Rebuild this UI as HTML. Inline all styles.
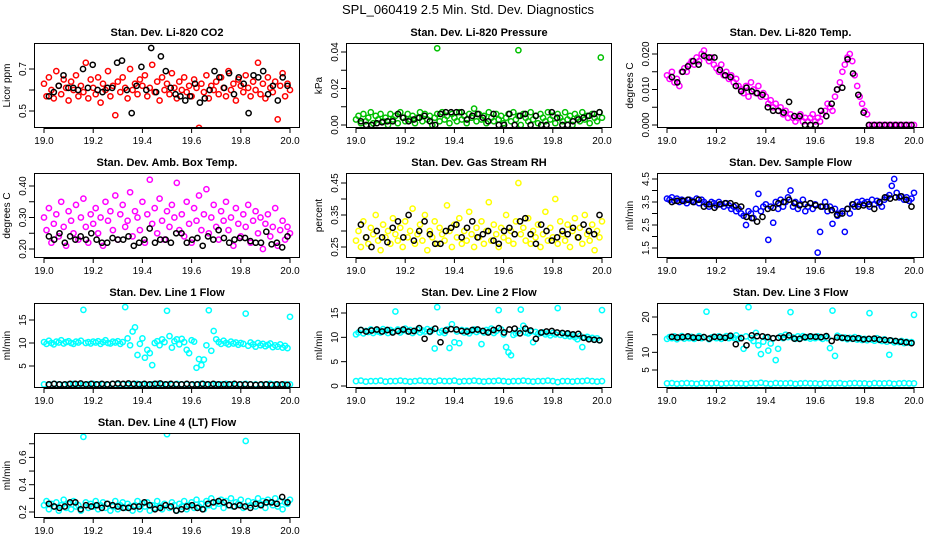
<!DOCTYPE html>
<html><head><meta charset="utf-8"><title>SPL_060419 Diagnostics</title>
<style>
html,body{margin:0;padding:0;background:#fff;}
svg{display:block;font-family:"Liberation Sans",Arial,sans-serif;}
</style></head>
<body>
<svg id="chart" width="936" height="540" viewBox="0 0 936 540" xmlns="http://www.w3.org/2000/svg">
<rect x="0" y="0" width="936" height="540" fill="#fff"/>
<text x="468" y="14" text-anchor="middle" font-size="13">SPL_060419  2.5 Min. Std. Dev. Diagnostics</text>
</svg>
<script>
const xTicks=[19.0,19.2,19.4,19.6,19.8,20.0];
const xTickLabels=["19.0","19.2","19.4","19.6","19.8","20.0"];
const xStart=19.0, xEnd=20.0, refStart=19.02, refEnd=19.99;

const co2Main=[0.63,0.57,0.66,0.60,0.56,0.69,0.62,0.58,0.65,0.61,0.55,0.64,0.60,0.67,0.57,0.62,0.59,0.73,0.56,0.65,0.61,0.58,0.66,0.54,0.63,0.60,0.69,0.57,0.62,0.48,0.64,0.59,0.66,0.61,0.56,0.70,0.60,0.63,0.58,0.65,0.62,0.67,0.57,0.61,0.72,0.59,0.64,0.55,0.66,0.60,0.63,0.58,0.68,0.61,0.56,0.64,0.60,0.66,0.59,0.62,0.57,0.65,0.61,0.42,0.63,0.59,0.67,0.56,0.62,0.60,0.64,0.58,0.66,0.61,0.57,0.69,0.60,0.63,0.55,0.65,0.62,0.59,0.67,0.61,0.57,0.64,0.60,0.73,0.58,0.63,0.56,0.66,0.61,0.59,0.64,0.46,0.62,0.68,0.57,0.63,0.60];
const co2Ref=[0.57,0.59,0.62,0.67,0.61,0.61,0.60,0.70,0.61,0.72,0.60,0.59,0.61,0.61,0.73,0.74,0.60,0.49,0.62,0.71,0.60,0.80,0.59,0.76,0.69,0.61,0.58,0.57,0.55,0.57,0.63,0.54,0.56,0.60,0.69,0.66,0.61,0.68,0.58,0.66,0.63,0.49,0.67,0.66,0.69,0.58,0.62,0.55,0.66,0.62];
const presMain=[0.003,0.005,0.001,0.006,0.002,0.004,0.007,0.001,0.005,0.003,0.006,0.002,0.004,0.000,0.006,0.003,0.005,0.001,0.007,0.004,0.002,0.006,0.003,0.005,0.001,0.004,0.007,0.002,0.006,0.003,0.005,0.000,0.004,0.006,0.002,0.007,0.003,0.005,0.001,0.006,0.004,0.002,0.007,0.003,0.005,0.001,0.006,0.004,0.009,0.002,0.006,0.003,0.005,0.001,0.007,0.004,0.002,0.006,0.003,0.005,0.001,0.004,0.006,0.002,0.007,0.003,0.005,0.000,0.006,0.004,0.002,0.007,0.003,0.005,0.001,0.006,0.004,0.002,0.007,0.003,0.005,0.001,0.006,0.004,0.002,0.007,0.003,0.005,0.000,0.006,0.004,0.002,0.007,0.003,0.005,0.001,0.006,0.004,0.002,0.007,0.004];
const presOutX=[19.33,19.66,19.995];
const presOutY=[0.042,0.041,0.037];
const presRef=[0.002,0.000,0.000,0.001,0.0015,0.002,0.002,0.006,0.004,0.002,0.003,0.004,0.005,0.002,0.000,0.006,0.007,0.007,0.007,0.007,0.003,0.005,0.006,0.004,0.002,0.006,0.000,0.000,0.006,0.000,0.005,0.006,0.000,0.005,0.000,0.000,0.007,0.004,0.000,0.000,0.002,0.003,0.004,0.005,0.006,0.007];
const tempMain=[0.014,0.013,0.015,0.012,0.013,0.011,0.015,0.016,0.015,0.017,0.018,0.017,0.019,0.018,0.020,0.021,0.019,0.018,0.019,0.017,0.016,0.015,0.017,0.014,0.015,0.013,0.014,0.012,0.013,0.011,0.010,0.009,0.011,0.008,0.012,0.010,0.009,0.011,0.008,0.009,0.008,0.006,0.007,0.005,0.006,0.004,0.005,0.003,0.004,0.002,0.003,0.002,0.001,0.002,0.003,0.001,0.002,0.001,0.002,0.003,0.001,0.002,0.001,0.003,0.004,0.006,0.005,0.004,0.008,0.010,0.012,0.015,0.017,0.019,0.020,0.018,0.014,0.011,0.008,0.006,0.004,0.003,0.000,0.000,0.000,0.000,0.000,0.000,0.000,0.000,0.000,0.000,0.000,0.000,0.000,0.000,0.000,0.000,0.000,0.000,0.000];
const tempRef=[0.0135,0.012,0.015,0.0165,0.018,0.017,0.0195,0.019,0.019,0.0155,0.014,0.0135,0.011,0.0095,0.0105,0.0095,0.009,0.0085,0.005,0.004,0.004,0.0035,0.0065,0.0025,0.0025,0.000,0.000,0.000,0.004,0.0025,0.006,0.010,0.0105,0.0185,0.0145,0.0085,0.0035,0.000,0,0,0,0,0,0,0,0];
const ambMain=[0.30,0.26,0.33,0.22,0.28,0.31,0.24,0.35,0.27,0.21,0.32,0.29,0.25,0.34,0.23,0.30,0.36,0.27,0.22,0.31,0.28,0.33,0.25,0.30,0.21,0.35,0.29,0.32,0.26,0.37,0.23,0.31,0.34,0.27,0.29,0.38,0.24,0.32,0.30,0.26,0.35,0.22,0.31,0.42,0.28,0.33,0.25,0.36,0.29,0.23,0.32,0.27,0.34,0.30,0.41,0.26,0.31,0.24,0.35,0.28,0.22,0.33,0.29,0.37,0.26,0.31,0.39,0.25,0.30,0.34,0.27,0.23,0.32,0.29,0.35,0.26,0.30,0.21,0.33,0.28,0.24,0.31,0.27,0.34,0.22,0.29,0.32,0.25,0.30,0.20,0.28,0.31,0.24,0.27,0.33,0.21,0.26,0.29,0.23,0.27,0.25];
const ambRef=[0.24,0.23,0.25,0.22,0.24,0.23,0.24,0.23,0.25,0.23,0.22,0.22,0.235,0.23,0.23,0.24,0.21,0.22,0.23,0.265,0.22,0.23,0.23,0.22,0.25,0.25,0.22,0.23,0.235,0.21,0.24,0.23,0.26,0.235,0.22,0.23,0.235,0.235,0.225,0.22,0.22,0.255,0.215,0.22,0.205,0.24];
const rhMain=[0.27,0.30,0.25,0.33,0.28,0.26,0.31,0.29,0.35,0.27,0.24,0.32,0.28,0.30,0.26,0.34,0.29,0.27,0.31,0.25,0.33,0.28,0.30,0.37,0.26,0.29,0.32,0.27,0.35,0.24,0.30,0.28,0.33,0.26,0.31,0.29,0.27,0.38,0.30,0.25,0.32,0.28,0.34,0.26,0.30,0.27,0.36,0.29,0.25,0.31,0.28,0.33,0.26,0.30,0.39,0.27,0.32,0.29,0.25,0.31,0.28,0.35,0.27,0.30,0.26,0.33,0.45,0.29,0.31,0.27,0.34,0.26,0.30,0.28,0.32,0.25,0.29,0.36,0.27,0.31,0.28,0.40,0.26,0.33,0.29,0.27,0.32,0.25,0.30,0.34,0.28,0.31,0.26,0.35,0.29,0.27,0.32,0.24,0.30,0.28,0.33];
const rhRef=[0.32,0.28,0.25,0.30,0.28,0.265,0.31,0.33,0.28,0.35,0.27,0.30,0.33,0.29,0.26,0.26,0.30,0.31,0.32,0.28,0.31,0.33,0.28,0.29,0.30,0.27,0.26,0.30,0.31,0.29,0.33,0.34,0.29,0.26,0.32,0.30,0.27,0.28,0.30,0.29,0.31,0.28,0.32,0.30,0.29,0.35];
const flowMain=[3.65,3.6,3.7,3.55,3.65,3.5,3.6,3.55,3.45,3.6,3.55,3.5,3.65,3.45,3.6,3.5,3.4,3.3,3.5,3.45,3.35,3.5,3.4,3.3,3.45,3.35,3.2,3.3,3.1,3.2,3.0,2.9,2.5,3.1,3.0,2.8,3.2,3.85,3.1,3.3,3.4,1.85,3.3,2.6,3.5,3.2,3.6,3.3,3.5,3.7,4.0,3.3,3.5,3.2,3.4,3.6,3.1,3.3,3.45,3.2,3.4,1.3,2.2,3.3,3.5,3.1,3.3,2.55,3.2,2.9,3.0,3.1,2.2,3.2,3.0,3.4,3.3,3.5,3.4,3.55,3.45,3.5,3.3,3.6,3.4,3.55,3.45,3.3,3.6,3.7,3.8,4.2,4.5,3.9,3.7,3.75,3.6,3.7,3.55,3.65,3.9];
const flowRef=[3.5,3.55,3.55,3.6,3.5,3.6,3.3,3.4,3.25,3.4,3.45,3.45,3.35,3.3,2.85,2.8,2.65,2.85,3.2,3.25,3.45,3.5,3.6,3.45,3.35,3.4,3.45,3.35,3.3,3.3,3.15,2.95,3.0,3.2,3.4,3.3,3.35,3.4,3.2,3.5,3.7,3.65,3.7,3.75,3.6,3.3];
const line1Main=[10.2,9.8,10.5,10.0,9.7,10.3,10.1,10.6,9.9,10.2,10.4,10.0,9.8,10.3,10.1,10.5,17.2,10.0,10.2,9.9,10.3,10.1,10.4,9.8,10.2,10.6,10.0,9.9,10.3,10.1,10.4,9.8,10.2,17.8,11.0,9.5,12.5,13.4,7.4,9.8,11.0,6.8,8.5,7.8,5.2,10.0,10.4,9.5,10.8,10.2,17.0,11.5,9.0,10.4,10.8,9.7,10.9,10.2,8.5,7.8,10.6,10.3,4.6,6.5,5.2,6.4,9.5,17.1,8.3,12.6,10.8,10.2,9.8,10.5,10.0,9.7,10.3,9.9,10.1,9.6,10.0,9.8,16.4,9.4,10.1,9.7,9.2,10.0,9.5,9.8,9.3,9.6,9.9,9.1,9.5,9.2,9.7,9.0,9.4,8.9,15.7];
const line1Low=[1.0,0.9,1.1,1.0,0.9,1.0,1.1,1.0,0.9,1.0,1.1,1.0,1.0,0.9,1.1,1.0,1.0,0.9,1.0,1.1,1.0,0.9,1.0,1.1,1.0,1.0,0.9,1.1,1.0,1.0,0.9,1.0,1.1,1.0,0.9,1.0,1.0,1.1,1.0,0.9,1.0,1.1,1.0,1.0,0.9,1.0,1.1,1.0,0.9,1.0,1.0];
const line1Ref=[1.0,1.1,1.0,1.0,1.1,1.1,1.2,1.0,1.1,1.0,1.1,1.0,1.1,1.2,1.1,1.2,1.1,1.0,1.1,1.0,1.1,1.2,1.0,1.1,1.0,1.0,1.1,1.0,1.0,1.1,1.0,1.1,1.0,1.0,1.0,1.1,1.0,1.0,1.0,0.9,1.0,1.0,0.9,1.0,1.0,0.9];
const line2Main=[10.6,11.0,11.5,10.8,11.3,11.1,11.6,10.9,11.4,11.2,11.0,11.7,11.3,10.9,11.5,11.2,15.3,11.6,11.0,11.4,11.8,11.2,11.5,10.9,11.3,11.6,11.0,11.4,11.2,11.7,11.1,11.5,7.7,16.2,11.0,11.3,10.9,11.6,7.8,12.7,9.0,11.2,8.8,11.5,11.0,11.4,10.8,11.3,11.6,11.1,11.4,8.6,11.0,11.5,11.2,11.8,10.9,11.3,15.6,11.6,10.6,8.0,6.9,6.3,10.5,10.8,11.3,15.7,12.4,11.0,10.8,11.2,9.0,11.1,10.7,10.9,11.0,10.6,10.8,10.4,10.9,10.6,16.0,10.5,10.8,10.3,10.6,10.2,10.4,10.0,9.6,10.3,8.0,9.9,10.1,9.7,9.9,9.5,9.8,9.4,15.6];
const line2Low=[1.0,1.1,0.9,1.0,1.0,1.1,0.9,1.0,1.0,1.1,1.0,0.9,1.0,1.1,1.0,1.0,0.9,1.1,1.0,1.0,1.1,0.9,1.0,1.0,1.1,1.0,0.9,1.0,1.0,1.1,1.0,0.9,1.0,1.0,1.1,1.0,0.9,1.0,1.0,1.1,1.0,0.8,1.0,1.0,0.9,1.0,1.0,1.1,1.0,0.9,1.0];
const line2Ref=[11.5,11.2,11.4,11.6,11.2,11.5,11.0,11.3,11.6,11.2,11.3,11.9,9.7,11.2,11.8,9.0,11.4,11.7,11.6,11.3,11.2,11.5,11.6,11.3,11.0,11.5,11.9,11.0,11.6,11.8,10.8,11.8,11.4,9.7,11.0,11.2,11.3,11.0,10.9,10.8,10.6,10.7,9.9,9.6,9.5,9.4];
const line3Main=[13.8,14.3,14.0,14.5,13.7,14.2,14.6,13.9,14.3,14.0,14.4,13.8,14.1,14.6,14.0,14.3,21.5,13.7,14.2,14.4,14.0,14.5,13.8,14.2,14.6,14.0,14.3,14.1,14.8,13.9,14.2,11.0,14.5,22.8,14.0,13.2,15.5,12.0,9.5,13.0,14.2,10.5,12.5,14.0,7.8,11.0,14.5,14.0,15.0,14.3,21.4,14.2,13.8,14.5,14.0,14.6,14.1,14.3,13.9,14.4,14.0,14.5,14.2,13.8,14.4,14.0,11.2,21.8,9.0,14.7,14.3,14.0,14.2,13.7,14.1,13.8,14.3,13.6,14.0,13.5,13.8,13.4,21.1,13.6,13.3,14.0,13.5,13.2,13.7,13.0,9.3,13.3,12.8,13.1,12.9,13.2,12.6,13.0,12.7,12.9,20.6];
const line3Low=[1.2,1.3,1.1,1.2,1.3,1.2,1.1,1.3,1.2,1.2,1.3,1.1,1.2,1.3,1.2,1.2,1.1,1.3,1.2,1.4,1.2,1.1,1.3,1.2,1.2,1.3,1.1,1.2,1.3,1.2,1.2,1.1,1.3,1.2,1.2,1.3,1.1,1.2,1.3,1.2,1.2,1.1,1.3,1.2,1.2,1.3,1.1,1.2,1.3,1.2,1.2];
const line3Ref=[14.4,14.2,14.3,14.5,14.2,14.1,14.3,13.9,14.4,14.3,14.1,14.7,12.3,14.0,12.0,14.8,14.6,14.5,14.3,14.0,14.1,14.2,14.8,13.9,13.8,14.3,14.5,14.4,14.3,14.6,13.2,14.2,14.1,14.0,13.9,14.0,13.7,13.8,13.9,13.6,13.5,13.4,13.2,13.0,12.8,12.6];
const line4Main=[0.25,0.28,0.22,0.26,0.24,0.27,0.21,0.25,0.29,0.23,0.26,0.22,0.28,0.24,0.25,0.21,0.75,0.27,0.23,0.26,0.24,0.28,0.22,0.25,0.27,0.23,0.26,0.21,0.24,0.28,0.22,0.25,0.27,0.23,0.26,0.24,0.21,0.25,0.28,0.22,0.26,0.24,0.27,0.21,0.25,0.23,0.28,0.24,0.22,0.26,0.77,0.23,0.27,0.25,0.21,0.26,0.24,0.28,0.22,0.25,0.27,0.23,0.29,0.24,0.26,0.22,0.28,0.25,0.30,0.24,0.27,0.26,0.29,0.23,0.28,0.25,0.30,0.24,0.27,0.26,0.29,0.23,0.72,0.28,0.25,0.27,0.24,0.30,0.26,0.28,0.23,0.29,0.27,0.25,0.30,0.24,0.28,0.22,0.27,0.26,0.29];
const line4Ref=[0.26,0.24,0.23,0.24,0.27,0.27,0.22,0.25,0.24,0.25,0.23,0.26,0.25,0.24,0.23,0.23,0.24,0.24,0.27,0.25,0.22,0.23,0.25,0.24,0.21,0.22,0.24,0.25,0.23,0.22,0.26,0.27,0.28,0.27,0.25,0.24,0.25,0.24,0.23,0.26,0.25,0.27,0.27,0.26,0.31,0.27];

const cols=[{bl:34,br:300,x0:44,x1:290},{bl:346,br:612,x0:356,x1:602},{bl:657,br:924,x0:667,x1:914}];
const rows=[{t:43,b:128},{t:173,b:258},{t:303,b:388},{t:433,b:518}];
const panels=[
 {id:'co2',c:0,r:0,title:'Stan. Dev. Li-820 CO2',ylab:'Licor ppm',va:0.5,pa:111,vb:0.7,pb:69,ticks:[0.5,0.6,0.7],labels:['0.5','','0.7'],color:'#ff0000',series:[co2Main],ref:co2Ref},
 {id:'pressure',c:1,r:0,title:'Stan. Dev. Li-820 Pressure',ylab:'kPa',va:0,pa:125,vb:0.04,pb:52,ticks:[0,0.01,0.02,0.03,0.04],labels:['0.00','','0.02','','0.04'],color:'#00c000',series:[presMain],outX:presOutX,outY:presOutY,ref:presRef},
 {id:'temp',c:2,r:0,title:'Stan. Dev. Li-820 Temp.',ylab:'degrees C',va:0,pa:125,vb:0.02,pb:54,ticks:[0,0.005,0.01,0.015,0.02],labels:['0.000','','0.010','','0.020'],color:'#ff00ff',series:[tempMain],ref:tempRef},
 {id:'amb-box',c:0,r:1,title:'Stan. Dev. Amb. Box Temp.',ylab:'degrees C',va:0.2,pa:249,vb:0.4,pb:186,ticks:[0.2,0.25,0.3,0.35,0.4],labels:['0.20','','0.30','','0.40'],color:'#ff00ff',series:[ambMain],ref:ambRef},
 {id:'rh',c:1,r:1,title:'Stan. Dev. Gas Stream RH',ylab:'percent',va:0.25,pa:247,vb:0.45,pb:183,ticks:[0.25,0.3,0.35,0.4,0.45],labels:['0.25','','0.35','','0.45'],color:'#ffff00',series:[rhMain],ref:rhRef},
 {id:'sample-flow',c:2,r:1,title:'Stan. Dev. Sample Flow',ylab:'ml/min',va:1.5,pa:248,vb:4.5,pb:179,ticks:[1.5,2,2.5,3,3.5,4,4.5],labels:['1.5','','2.5','','3.5','','4.5'],color:'#0000ff',series:[flowMain],ref:flowRef},
 {id:'line1',c:0,r:2,title:'Stan. Dev. Line 1 Flow',ylab:'ml/min',va:5,pa:366,vb:15,pb:320,ticks:[5,10,15],labels:['5','10','15'],color:'#00ffff',series:[line1Main,line1Low],ref:line1Ref},
 {id:'line2',c:1,r:2,title:'Stan. Dev. Line 2 Flow',ylab:'ml/min',va:0,pa:386,vb:15,pb:313,ticks:[0,5,10,15],labels:['0','5','10','15'],color:'#00ffff',series:[line2Main,line2Low],ref:line2Ref},
 {id:'line3',c:2,r:2,title:'Stan. Dev. Line 3 Flow',ylab:'ml/min',va:5,pa:370,vb:20,pb:317,ticks:[5,10,15,20],labels:['5','10','','20'],color:'#00ffff',series:[line3Main,line3Low],ref:line3Ref},
 {id:'line4',c:0,r:3,title:'Stan. Dev. Line 4 (LT) Flow',ylab:'ml/min',va:0.2,pa:512,vb:0.6,pb:457.4,ticks:[0.2,0.3,0.4,0.5,0.6,0.7],labels:['0.2','','0.4','','0.6',''],color:'#00ffff',series:[line4Main],ref:line4Ref}
];
const NS='http://www.w3.org/2000/svg';
const svg=document.getElementById('chart');
function mk(tag,attrs,parent){const e=document.createElementNS(NS,tag);for(const k in attrs)e.setAttribute(k,attrs[k]);(parent||svg).appendChild(e);return e;}
function pt(g,x,y,color){
  const c=mk('circle',{cx:x.toFixed(1),cy:y.toFixed(1),r:2.6,fill:'none',stroke:color,'stroke-width':1.5},g);
  
  
}
panels.forEach(p=>{
  const col=cols[p.c],row=rows[p.r];
  const sx=v=>col.x0+(v-xStart)/(xEnd-xStart)*(col.x1-col.x0);
  const sy=v=>p.pa+(v-p.va)/(p.vb-p.va)*(p.pb-p.pa);
  const g=mk('g',{});
  
  
  const t=mk('text',{x:(col.bl+col.br)/2,y:row.t-7,'text-anchor':'middle','font-size':11,'font-weight':'bold'},g);
  t.textContent=p.title;
  
  
  const clip=mk('clipPath',{id:'clip-'+p.id},g);
  mk('rect',{x:col.bl,y:row.t,width:col.br-col.bl,height:row.b-row.t},clip);
  const pg=mk('g',{'clip-path':'url(#clip-'+p.id+')'},g);
  
  
  p.series.forEach(arr=>{const n=arr.length;arr.forEach((v,i)=>pt(pg,sx(xStart+(xEnd-xStart)*i/(n-1)),sy(v),p.color));});
  if(p.outX)p.outX.forEach((x,i)=>pt(pg,sx(x),sy(p.outY[i]),p.color));
  const n=p.ref.length;
  p.ref.forEach((v,i)=>pt(pg,sx(refStart+(refEnd-refStart)*i/(n-1)),sy(v),'#000'));
  const box=mk('rect',{x:col.bl+0.5,y:row.t+0.5,width:col.br-col.bl-1,height:row.b-row.t-1,fill:'none',stroke:'#000','stroke-width':1},g);
  
  
  // x axis
  mk('line',{x1:sx(xTicks[0]),x2:sx(xTicks[xTicks.length-1]),y1:row.b+0.5,y2:row.b+0.5,stroke:'#000'},g);
  xTicks.forEach((v,i)=>{
    mk('line',{x1:sx(v),x2:sx(v),y1:row.b,y2:row.b+5,stroke:'#000'},g);
    const l=mk('text',{x:sx(v),y:row.b+16,'text-anchor':'middle','font-size':10},g);
    l.textContent=xTickLabels[i];
    
    
  });
  // y axis
  mk('line',{x1:col.bl+0.5,x2:col.bl+0.5,y1:sy(p.ticks[0]),y2:sy(p.ticks[p.ticks.length-1]),stroke:'#000'},g);
  p.ticks.forEach((v,i)=>{
    const y=sy(v);
    mk('line',{x1:col.bl-5,x2:col.bl,y1:y,y2:y,stroke:'#000'},g);
    if(p.labels[i]){
      const l=mk('text',{x:0,y:0,'text-anchor':'middle','font-size':10,transform:'translate('+(col.bl-8)+','+y+') rotate(-90)'},g);
      l.textContent=p.labels[i];
      
      
    }
  });
  const yl=mk('text',{x:0,y:0,'text-anchor':'middle','font-size':10,transform:'translate('+(col.bl-24)+','+((row.t+row.b)/2)+') rotate(-90)'},g);
  yl.textContent=p.ylab;
  
  
});
</script>
</body></html>
